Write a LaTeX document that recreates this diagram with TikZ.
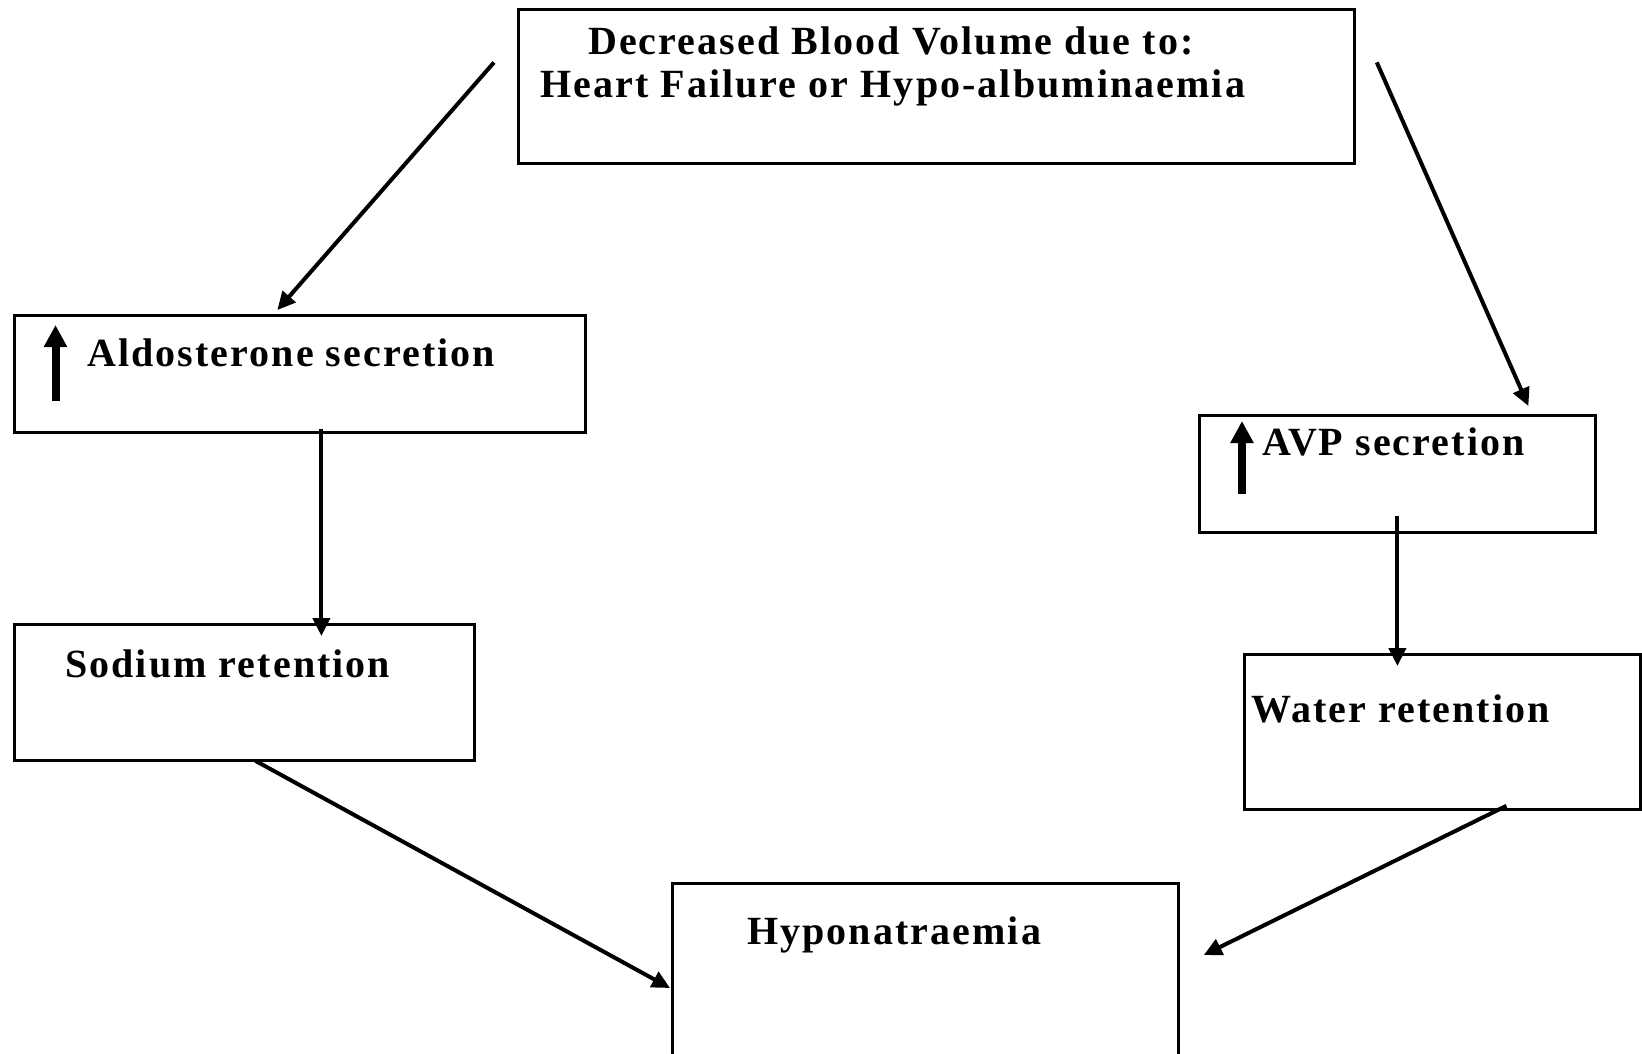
\documentclass[tikz,border=0pt]{standalone}
\usepackage{fontspec}
\setmainfont{Liberation Serif}
\newfontfamily\boxfont{Liberation Serif}[LetterSpace=5.2]
\usetikzlibrary{arrows.meta,positioning}

\begin{document}
\begin{tikzpicture}[
  x=1pt, y=-1pt,
  font=\boxfont\fontsize{40}{42.5}\selectfont\bfseries,
  box/.style={draw, line width=2.8pt, inner sep=0pt, anchor=north west},
  lbl/.style={anchor=base west, inner sep=0pt},
  arr/.style={-{Triangle[length=18pt,width=17pt]}, line width=4pt},
  uparr/.style={-{Triangle[length=22pt,width=22pt]}, line width=8pt}
]
\useasboundingbox (0,0) rectangle (1642,1053);

% boxes
\node[box, minimum width=836pt, minimum height=154pt] (vol) at (517,8) {};
\node[box, minimum width=571pt, minimum height=117pt] (ald) at (13,314) {};
\node[box, minimum width=460pt, minimum height=136pt] (sod) at (13,623) {};
\node[box, minimum width=396pt, minimum height=117pt] (avp) at (1198,414) {};
\node[box, minimum width=396pt, minimum height=155pt] (wat) at (1243,653) {};
\node[box, minimum width=506pt, minimum height=185pt] (hyp) at (671,882) {};

% texts
\node[lbl] (vola) at ([xshift=71pt,yshift=-46.5pt]vol.north west) {Decreased Blood Volume due to:};
\node[lbl] (volb) at ([xshift=23pt,yshift=-89pt]vol.north west) {Heart Failure or Hypo-albuminaemia};
\node[lbl] (aldtxt) at ([xshift=74pt,yshift=-52.5pt]ald.north west) {Aldosterone secretion};
\node[lbl] (sodtxt) at ([xshift=52pt,yshift=-54.5pt]sod.north west) {Sodium retention};
\node[lbl] (avptxt) at ([xshift=64pt,yshift=-41.5pt]avp.north west) {AVP secretion};
\node[lbl] (wattxt) at ([xshift=8pt,yshift=-69.5pt]wat.north west) {Water retention};
\node[lbl] (hyptxt) at ([xshift=76pt,yshift=-62.6pt]hyp.north west) {Hyponatraemia};

% rising marks
\draw[uparr] ([xshift=42.5pt,yshift=-87pt]ald.north west) -- ([xshift=42.5pt,yshift=-11pt]ald.north west);
\draw[uparr] ([xshift=44pt,yshift=-80pt]avp.north west) -- ([xshift=44pt,yshift=-7pt]avp.north west);

% connectors
\draw[arr] ([xshift=-23pt,yshift=24pt]vol.west) -- ([xshift=-22.5pt,yshift=4pt]ald.north);
\draw[arr] ([xshift=21pt,yshift=24pt]vol.east) -- ([xshift=131pt,yshift=8pt]avp.north);
\draw[arr] ([xshift=21.5pt,yshift=5pt]ald.south) -- ([xshift=77pt,yshift=-13pt]sod.north);
\draw[arr] ([yshift=18pt]avp.south) -- ([xshift=-45pt,yshift=-13pt]wat.north);
\draw[arr] ([xshift=11pt,yshift=1pt]sod.south) -- ([xshift=-1pt,yshift=-106pt]hyp.north west);
\draw[arr] ([xshift=64pt,yshift=5pt]wat.south) -- ([xshift=24pt,yshift=-73pt]hyp.north east);
\end{tikzpicture}
\end{document}
